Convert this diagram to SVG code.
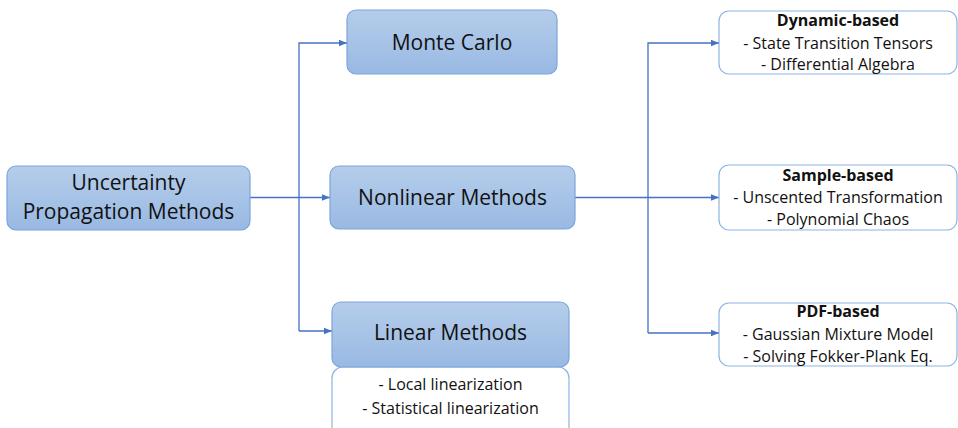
<svg xmlns="http://www.w3.org/2000/svg" width="958" height="428" viewBox="0 0 958 428">
<defs>
<linearGradient id="g" x1="0" y1="0" x2="0" y2="1">
<stop offset="0" stop-color="#b5cdea"/>
<stop offset="1" stop-color="#99b9e3"/>
</linearGradient>
<marker id="a" viewBox="0 0 10 10" refX="10" refY="5" markerWidth="8" markerHeight="8" markerUnits="userSpaceOnUse" orient="auto">
<path d="M0,1 L10,5 L0,9 z" fill="#4472c4"/>
</marker>
<style>
.m{fill:url(#g);stroke:#7aa6dc;stroke-width:1.2}
.w{fill:#fff;stroke:#8db4e2;stroke-width:1.2}
.t{font-family:"Open Sans","Liberation Sans",sans-serif;fill:#111;text-anchor:middle}
.big{font-size:21px}
.sm{font-size:16px}
.b{font-weight:bold}
.c{fill:none;stroke:#4472c4;stroke-width:1.3}
</style>
</defs>
<rect width="958" height="428" fill="#fff"/>
<g id="connectors">
<path class="c" d="M250,197.5 H330" marker-end="url(#a)"/>
<path class="c" d="M299,331 V43 H347" marker-end="url(#a)"/>
<path class="c" d="M299,331 H332" marker-end="url(#a)"/>
<path class="c" d="M575,197.5 H719" marker-end="url(#a)"/>
<path class="c" d="M648,333 V43 H719" marker-end="url(#a)"/>
<path class="c" d="M648,333 H719" marker-end="url(#a)"/>
</g>
<g id="uncertainty">
<rect class="m" x="7" y="166" width="243" height="64" rx="9"/>
<text class="t big" x="128.5" y="190">Uncertainty</text>
<text class="t big" x="128.5" y="219">Propagation Methods</text>
</g>
<g id="montecarlo">
<rect class="m" x="347" y="10" width="210" height="64" rx="9"/>
<text class="t big" x="452" y="50">Monte Carlo</text>
</g>
<g id="nonlinear">
<rect class="m" x="330" y="166" width="245" height="63" rx="9"/>
<text class="t big" x="452.5" y="205">Nonlinear Methods</text>
</g>
<g id="linear">
<rect class="w" x="332" y="367" width="237" height="72" rx="11"/>
<rect class="m" x="332" y="302" width="237" height="65" rx="9"/>
<text class="t big" x="450.5" y="340">Linear Methods</text>
<text class="t sm" x="450.5" y="390">- Local linearization</text>
<text class="t sm" x="450.5" y="414">- Statistical linearization</text>
</g>
<g id="dynamic">
<rect class="w" x="719" y="11" width="238" height="63" rx="10"/>
<text class="t sm b" x="838" y="26">Dynamic-based</text>
<text class="t sm" x="838" y="49">- State Transition Tensors</text>
<text class="t sm" x="838" y="70">- Differential Algebra</text>
</g>
<g id="sample">
<rect class="w" x="719" y="165" width="238" height="65" rx="10"/>
<text class="t sm b" x="838" y="181">Sample-based</text>
<text class="t sm" x="838" y="203">- Unscented Transformation</text>
<text class="t sm" x="838" y="225">- Polynomial Chaos</text>
</g>
<g id="pdf">
<rect class="w" x="719" y="303" width="238" height="63" rx="10"/>
<text class="t sm b" x="838" y="317">PDF-based</text>
<text class="t sm" x="838" y="340">- Gaussian Mixture Model</text>
<text class="t sm" x="838" y="362">- Solving Fokker-Plank Eq.</text>
</g>
</svg>
